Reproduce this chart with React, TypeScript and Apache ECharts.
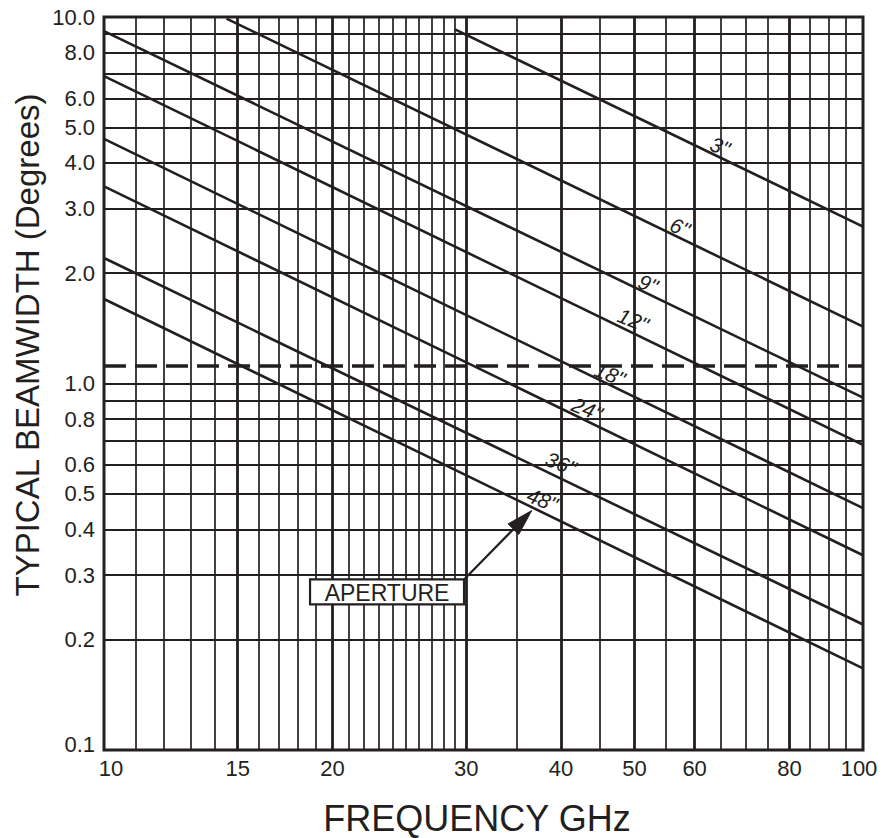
import React, { useEffect, useRef } from "react";
import * as echarts from "echarts";

// Aperture lines (beamwidth vs frequency)
const apertureLabels = ['3"', '6"', '9"', '12"', '18"', '24"', '36"', '48"'];
const lineStartFreq = [29, 14.5, 10, 10, 10, 10, 10, 10];
const lineStartBeam = [9.25, 9.9, 9.15, 6.9, 4.65, 3.45, 2.2, 1.7];
const lineEndFreq = [100, 100, 100, 100, 100, 100, 100, 100];
const lineEndBeam = [2.68, 1.43, 0.915, 0.68, 0.457, 0.34, 0.22, 0.167];

// Where each aperture label sits (data coordinates)
const labelFreq = [64.8, 57.4, 52.1, 49.8, 46.4, 43.3, 40.0, 37.8];
const labelBeam = [4.44, 2.67, 1.87, 1.49, 1.06, 0.852, 0.605, 0.482];

// Grid lines
const xMajorGrid = [15, 20, 30, 40, 50, 60, 80];
const xMinorGrid = [11, 12, 13, 14, 16, 17, 18, 19, 21, 22, 23, 24, 25, 26, 27, 28, 29, 35, 45, 55, 65, 70, 75, 85, 90, 95];
const yGrid = [0.2, 0.3, 0.4, 0.5, 0.6, 0.7, 0.8, 0.9, 1, 2, 3, 4, 5, 6, 7, 8, 9];

// Tick labels
const xTickValues = [10, 15, 20, 30, 40, 50, 60, 80, 100];
const xTickLabels = ["10", "15", "20", "30", "40", "50", "60", "80", "100"];
const yTickValues = [0.1, 0.2, 0.3, 0.4, 0.5, 0.6, 0.8, 1, 2, 3, 4, 5, 6, 8, 10];
const yTickLabels = ["0.1", "0.2", "0.3", "0.4", "0.5", "0.6", "0.8", "1.0", "2.0", "3.0", "4.0", "5.0", "6.0", "8.0", "10.0"];

// Reference (dashed) beamwidth
const referenceBeamwidth = 1.12;

// Aperture callout
const calloutText = "APERTURE";
const calloutBoxCenter = [23.6, 0.27];
const calloutArrowTip = [36.6, 0.45];

const xTitle = "FREQUENCY GHz";
const yTitle = "TYPICAL BEAMWIDTH (Degrees)";

export default function App() {
  const ref = useRef<HTMLDivElement>(null);

  useEffect(() => {
    const el = ref.current;
    if (!el) return;
    const chart = echarts.init(el, null, { renderer: "svg" });
    const ink = "#231f20";
    const font = '"Liberation Sans", Arial, Helvetica, sans-serif';

    const gridLeft = 104;
    const gridTop = 17;
    const gridRight = 21;
    const gridBottom = 88;
    const H = 838;

    const gridLines: any[] = [
      ...xMajorGrid.map((v) => ({ xAxis: v, lineStyle: { width: 2.8, color: ink, type: "solid" } })),
      ...xMinorGrid.map((v) => ({ xAxis: v, lineStyle: { width: 1.7, color: ink, type: "solid" } })),
      ...yGrid.map((v) => ({ yAxis: v, lineStyle: { width: 1.8, color: ink, type: "solid" } })),
    ];

    const series: any[] = apertureLabels.map((name, i) => ({
      name,
      type: "line",
      data: [
        [lineStartFreq[i], lineStartBeam[i]],
        [lineEndFreq[i], lineEndBeam[i]],
      ],
      showSymbol: false,
      symbol: "none",
      silent: true,
      lineStyle: { color: ink, width: 2.6 },
      z: 4,
    }));

    series.push({
      name: "grid",
      type: "line",
      data: [],
      silent: true,
      z: 2,
      markLine: {
        silent: true,
        animation: false,
        symbol: ["none", "none"],
        label: { show: false },
        emphasis: { disabled: true },
        data: [
          ...gridLines,
          { yAxis: referenceBeamwidth, lineStyle: { width: 3.6, color: ink, type: [22, 9] } },
        ],
      },
    });

    chart.setOption({
      animation: false,
      backgroundColor: "#ffffff",
      grid: {
        left: gridLeft,
        top: gridTop,
        right: gridRight,
        bottom: gridBottom,
        show: true,
        borderColor: ink,
        borderWidth: 3,
        backgroundColor: "transparent",
        z: 5,
      },
      xAxis: {
        type: "log",
        logBase: 10,
        min: 10,
        max: 100,
        axisLine: { show: false },
        axisTick: { show: false },
        axisLabel: { show: false },
        splitLine: { show: false },
        minorSplitLine: { show: false },
      },
      yAxis: {
        type: "log",
        logBase: 10,
        min: 0.1,
        max: 10,
        axisLine: { show: false },
        axisTick: { show: false },
        axisLabel: { show: false },
        splitLine: { show: false },
        minorSplitLine: { show: false },
      },
      series,
    });

    const px = (f: number, v: number) =>
      chart.convertToPixel({ seriesIndex: 0 }, [f, v]) as number[];

    const plotBottom = H - gridBottom;
    const graphics: any[] = [];

    xTickValues.forEach((v, i) => {
      const p = px(v, 1);
      let dx = 0;
      if (i === 0) dx = 7;
      if (i === xTickValues.length - 1) dx = -4;
      graphics.push({
        type: "text",
        x: p[0] + dx,
        y: plotBottom + 18,
        silent: true,
        style: {
          text: xTickLabels[i],
          font: `22px ${font}`,
          fill: ink,
          textAlign: "center",
          textVerticalAlign: "middle",
          align: "center",
          verticalAlign: "middle",
        },
      });
    });

    yTickValues.forEach((v, i) => {
      const p = px(10, v);
      let dy = 0;
      if (i === 0) dy = -6;
      graphics.push({
        type: "text",
        x: gridLeft - 9,
        y: p[1] + dy,
        silent: true,
        style: {
          text: yTickLabels[i],
          font: `22px ${font}`,
          fill: ink,
          textAlign: "right",
          textVerticalAlign: "middle",
          align: "right",
          verticalAlign: "middle",
        },
      });
    });

    graphics.push({
      type: "text",
      x: 477,
      y: 818,
      silent: true,
      style: {
        text: xTitle,
        font: `36px ${font}`,
        fill: ink,
        textAlign: "center",
        textVerticalAlign: "middle",
        align: "center",
        verticalAlign: "middle",
      },
    });

    graphics.push({
      type: "text",
      x: 27,
      y: 345,
      rotation: Math.PI / 2,
      silent: true,
      style: {
        text: yTitle,
        font: `33px ${font}`,
        fill: ink,
        textAlign: "center",
        textVerticalAlign: "middle",
        align: "center",
        verticalAlign: "middle",
      },
    });

    apertureLabels.forEach((lbl, i) => {
      const p = px(labelFreq[i], labelBeam[i]);
      graphics.push({
        type: "text",
        x: p[0],
        y: p[1],
        rotation: -0.38,
        silent: true,
        z: 10,
        style: {
          text: lbl,
          font: `italic 21px ${font}`,
          fill: ink,
          textAlign: "center",
          textVerticalAlign: "middle",
          align: "center",
          verticalAlign: "middle",
        },
      });
    });

    // callout box + arrow
    const bc = px(calloutBoxCenter[0], calloutBoxCenter[1]);
    const boxW = 154;
    const boxH = 25;
    const start = [bc[0] + boxW / 2, bc[1] - boxH / 2];
    const tip = px(calloutArrowTip[0], calloutArrowTip[1]);
    const dxA = tip[0] - start[0];
    const dyA = tip[1] - start[1];
    const len = Math.sqrt(dxA * dxA + dyA * dyA);
    const ux = dxA / len;
    const uy = dyA / len;
    const headLen = 26;
    const headHalf = 7.5;
    const base = [tip[0] - ux * headLen, tip[1] - uy * headLen];
    const nx = -uy;
    const ny = ux;

    graphics.push({
      type: "line",
      silent: true,
      z: 10,
      shape: { x1: start[0], y1: start[1], x2: base[0] + ux * 2, y2: base[1] + uy * 2 },
      style: { stroke: ink, lineWidth: 2.2 },
    });
    graphics.push({
      type: "polygon",
      silent: true,
      z: 10,
      shape: {
        points: [
          [tip[0], tip[1]],
          [base[0] + nx * headHalf, base[1] + ny * headHalf],
          [base[0] - nx * headHalf, base[1] - ny * headHalf],
        ],
      },
      style: { fill: ink, stroke: ink, lineWidth: 1 },
    });
    graphics.push({
      type: "rect",
      silent: true,
      z: 10,
      shape: { x: bc[0] - boxW / 2, y: bc[1] - boxH / 2, width: boxW, height: boxH },
      style: { fill: "#ffffff", stroke: ink, lineWidth: 2.2 },
    });
    graphics.push({
      type: "text",
      silent: true,
      z: 11,
      x: bc[0],
      y: bc[1] + 1,
      style: {
        text: calloutText,
        font: `23px ${font}`,
        fill: ink,
        textAlign: "center",
        textVerticalAlign: "middle",
        align: "center",
        verticalAlign: "middle",
      },
    });

    chart.setOption({ graphic: graphics });

    return () => {
      chart.dispose();
    };
  }, []);

  return (
    <div
      ref={ref}
      style={{ position: "fixed", left: 0, top: 0, width: 884, height: 838, background: "#ffffff" }}
    />
  );
}
